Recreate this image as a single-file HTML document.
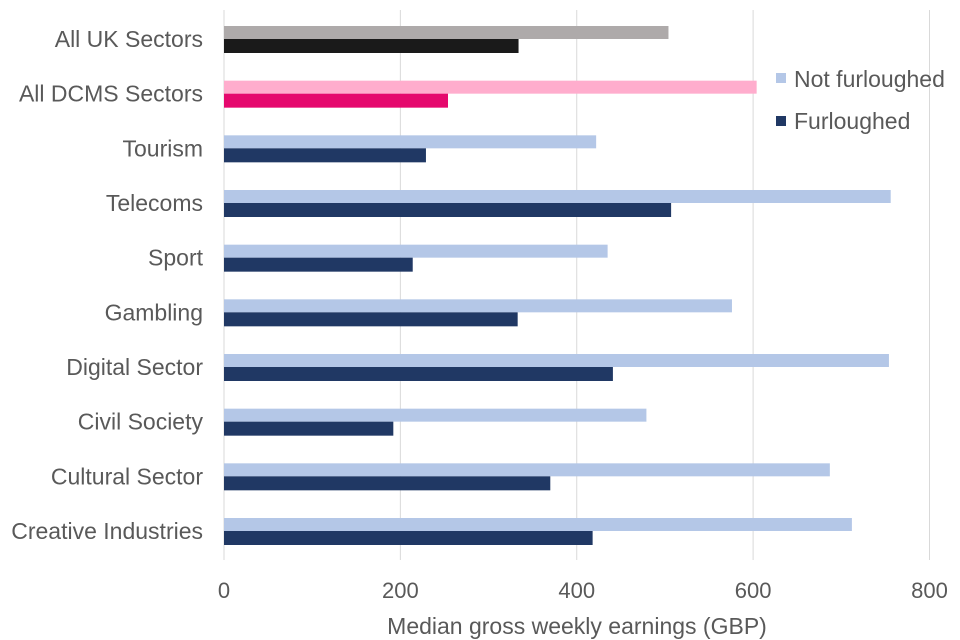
<!DOCTYPE html>
<html><head><meta charset="utf-8"><style>
html,body{margin:0;padding:0;background:#fff;}
svg{display:block;font-family:"Liberation Sans",Arial,sans-serif;}
</style></head><body>
<svg id="chart" width="960" height="640" viewBox="0 0 960 640" xmlns="http://www.w3.org/2000/svg">
<g id="grid"></g>
<g id="bars"></g>
<g id="cats"></g>
<g id="ticks"></g>
<text x="577" y="634" text-anchor="middle" font-size="23" fill="#595959">Median gross weekly  earnings (GBP)</text>
<g>
<rect x="776" y="73" width="10" height="10" fill="#b4c7e7"/>
<text x="794" y="87" font-size="23" fill="#595959">Not furloughed</text>
<rect x="776" y="116" width="10" height="10" fill="#203864"/>
<text x="794" y="129" font-size="23" fill="#595959">Furloughed</text>
</g>
</svg>
<script>
const categories = ["All UK Sectors","All DCMS Sectors","Tourism","Telecoms","Sport","Gambling","Digital Sector","Civil Society","Cultural Sector","Creative Industries"];
const notFurloughed = [504,604,422,756,435,576,754,479,687,712];
const furloughed = [334,254,229,507,214,333,441,192,370,418];
const tickValues = [0,200,400,600,800];
const lightColors = ["#aeaaaa","#ffadcd","#b4c7e7","#b4c7e7","#b4c7e7","#b4c7e7","#b4c7e7","#b4c7e7","#b4c7e7","#b4c7e7"];
const darkColors = ["#1a1a1a","#e5086d","#203864","#203864","#203864","#203864","#203864","#203864","#203864","#203864"];

const NS="http://www.w3.org/2000/svg";
const x0=224, x1=929.5, vmax=800;
function xs(v){return x0+(v/vmax)*(x1-x0);}
const yTop=39, yBot=531;
function yc(i){return yTop+i*(yBot-yTop)/(categories.length-1);}
function mk(tag,attrs,parent){const e=document.createElementNS(NS,tag);for(const k in attrs)e.setAttribute(k,attrs[k]);parent.appendChild(e);return e;}

const grid=document.getElementById('grid');
tickValues.forEach(function(t){
  const l=mk('line',{x1:xs(t),x2:xs(t),y1:10,y2:560,stroke:'#d9d9d9','stroke-width':1},grid);
  
  
  const tx=mk('text',{x:xs(t),y:598,'text-anchor':'middle','font-size':22,fill:'#595959'},document.getElementById('ticks'));
  tx.textContent=t;
  
  
});
const bars=document.getElementById('bars');
const cats=document.getElementById('cats');
categories.forEach(function(c,i){
  const y=yc(i);
  const slug=c.toLowerCase().replace(/\s+/g,'-');
  const a=mk('rect',{x:x0,y:y-13,width:xs(notFurloughed[i])-x0,height:13,fill:lightColors[i]},bars);
  
  
  const b=mk('rect',{x:x0,y:y,width:xs(furloughed[i])-x0,height:14,fill:darkColors[i]},bars);
  
  
  const t=mk('text',{x:203,y:y+8,'text-anchor':'end','font-size':23,fill:'#595959'},cats);
  t.textContent=c;
  
  
});
</script>
</body></html>
